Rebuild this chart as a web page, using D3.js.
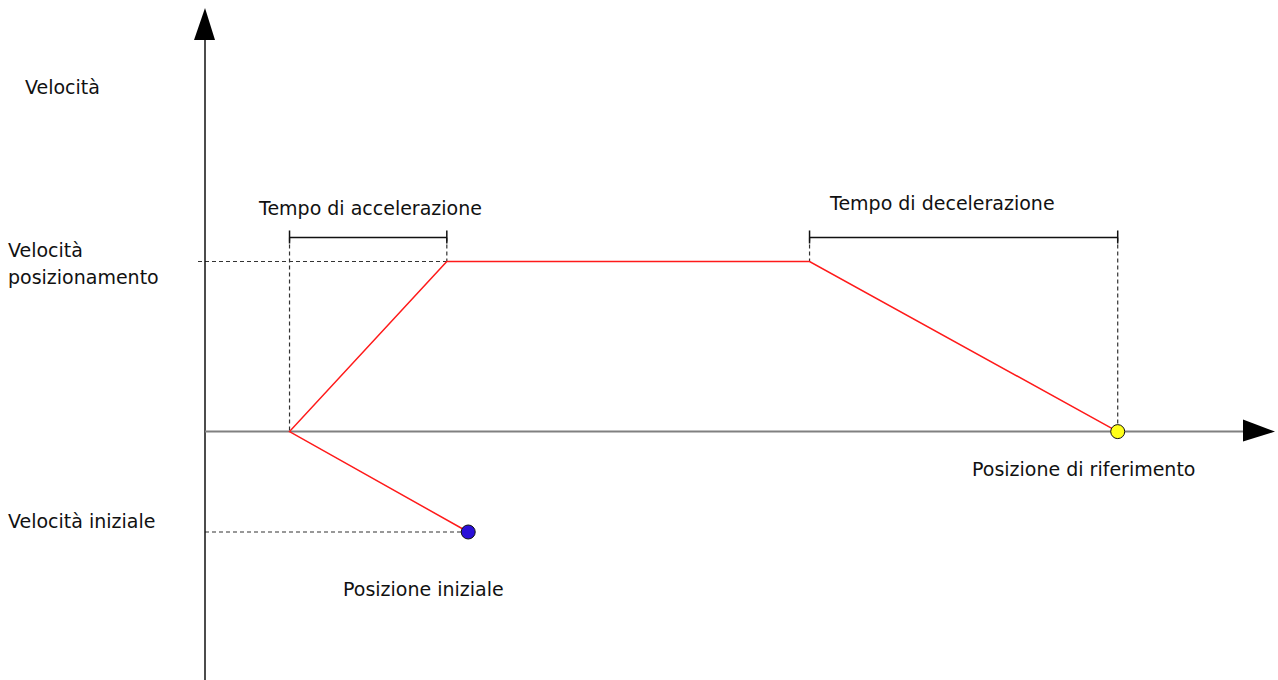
<!DOCTYPE html>
<html>
<head>
<meta charset="utf-8">
<script src="https://cdn.jsdelivr.net/npm/d3@7"></script>
<style>
  html, body { margin: 0; padding: 0; background: white; }
  text { font-family: "DejaVu Sans", Verdana, sans-serif; font-size: 19px; fill: #111; }
</style>
</head>
<body>
<div id="chart"></div>
<script>
var
  WIDTH = 1278,
  HEIGHT = 680,

  // time instants (axis units, 0..100) and velocities (1 = positioning speed)
  T_START = 7.9,
  T_ACCEL_END = 22.6,
  T_DECEL_START = 56.5,
  T_REF = 85.3,
  T_INITIAL = 24.6,
  V_POSITIONING = 1,
  V_INITIAL = -0.59,

  // red velocity profile
  profileTimes = [T_INITIAL, T_START, T_ACCEL_END, T_DECEL_START, T_REF],
  profileSpeeds = [V_INITIAL, 0, V_POSITIONING, V_POSITIONING, 0],

  velocityLabels = ["Velocità", "posizionamento"],
  initialLabel = "Velocità iniziale",
  axisLabel = "Velocità",
  accelLabel = "Tempo di accelerazione",
  decelLabel = "Tempo di decelerazione",
  refLabel = "Posizione di riferimento",
  startLabel = "Posizione iniziale";

var svg = d3.select("#chart").append("svg")
  .attr("width", WIDTH)
  .attr("height", HEIGHT);

var x = d3.scaleLinear().domain([0, 100]).range([205, 1275]);
var y = d3.scaleLinear().domain([-1.46, 2.49]).range([680, 8]);

var x0 = x(0), y0 = y(0);

function dashed(x1, y1, x2, y2){
  svg.append("line")
    .attr("x1", x1).attr("y1", y1).attr("x2", x2).attr("y2", y2)
    .attr("stroke", "#333").attr("stroke-width", 1.2)
    .attr("stroke-dasharray", "4,3");
}

// guide lines
var bracketY = y(V_POSITIONING) - 24;
dashed(x0 - 7, y(V_POSITIONING), x(T_ACCEL_END), y(V_POSITIONING));
dashed(x0, y(V_INITIAL), x(T_INITIAL), y(V_INITIAL));
dashed(x(T_START), bracketY, x(T_START), y0);
dashed(x(T_ACCEL_END), bracketY, x(T_ACCEL_END), y(V_POSITIONING));
dashed(x(T_DECEL_START), bracketY, x(T_DECEL_START), y(V_POSITIONING));
dashed(x(T_REF), bracketY, x(T_REF), y0);

// axes
svg.append("line")
  .attr("x1", x0).attr("y1", y.range()[0]).attr("x2", x0).attr("y2", 38)
  .attr("stroke", "#111").attr("stroke-width", 1.5);
svg.append("path")
  .attr("d", "M" + x0 + ",8 L" + (x0 - 11) + ",40 L" + (x0 + 10) + ",40 Z")
  .attr("fill", "#000");

svg.append("line")
  .attr("x1", x0).attr("y1", y0).attr("x2", 1245).attr("y2", y0)
  .attr("stroke", "#808080").attr("stroke-width", 2);
svg.append("path")
  .attr("d", "M1275," + y0 + " L1243," + (y0 - 12) + " L1243," + (y0 + 10) + " Z")
  .attr("fill", "#000");

// brackets
function bracket(t1, t2){
  var g = svg.append("g").attr("stroke", "#111").attr("stroke-width", 1.5);
  g.append("line").attr("x1", x(t1)).attr("x2", x(t2)).attr("y1", bracketY).attr("y2", bracketY);
  g.append("line").attr("x1", x(t1)).attr("x2", x(t1)).attr("y1", bracketY - 7).attr("y2", bracketY + 6);
  g.append("line").attr("x1", x(t2)).attr("x2", x(t2)).attr("y1", bracketY - 7).attr("y2", bracketY + 6);
}
bracket(T_START, T_ACCEL_END);
bracket(T_DECEL_START, T_REF);

// velocity profile
var line = d3.line()
  .x(function(d, i){ return x(profileTimes[i]); })
  .y(function(d){ return y(d); });
svg.append("path")
  .datum(profileSpeeds)
  .attr("d", line)
  .attr("fill", "none")
  .attr("stroke", "#ff1a1a")
  .attr("stroke-width", 1.5);

// markers
svg.append("circle")
  .attr("cx", x(T_INITIAL)).attr("cy", y(V_INITIAL)).attr("r", 7)
  .attr("fill", "#2a0fd8").attr("stroke", "#111").attr("stroke-width", 1);
svg.append("circle")
  .attr("cx", x(T_REF)).attr("cy", y0).attr("r", 7)
  .attr("fill", "#ffff1a").attr("stroke", "#111").attr("stroke-width", 1);

// labels
function label(txt, lx, ly){
  svg.append("text").attr("x", lx).attr("y", ly).text(txt);
}
label(axisLabel, 25, 94);
label(velocityLabels[0], 8, 257);
label(velocityLabels[1], 8, 284);
label(initialLabel, 8, 528);
label(accelLabel, 259, 215);
label(decelLabel, 830, 210);
label(refLabel, 972, 476);
label(startLabel, 343, 596);
</script>
</body>
</html>
